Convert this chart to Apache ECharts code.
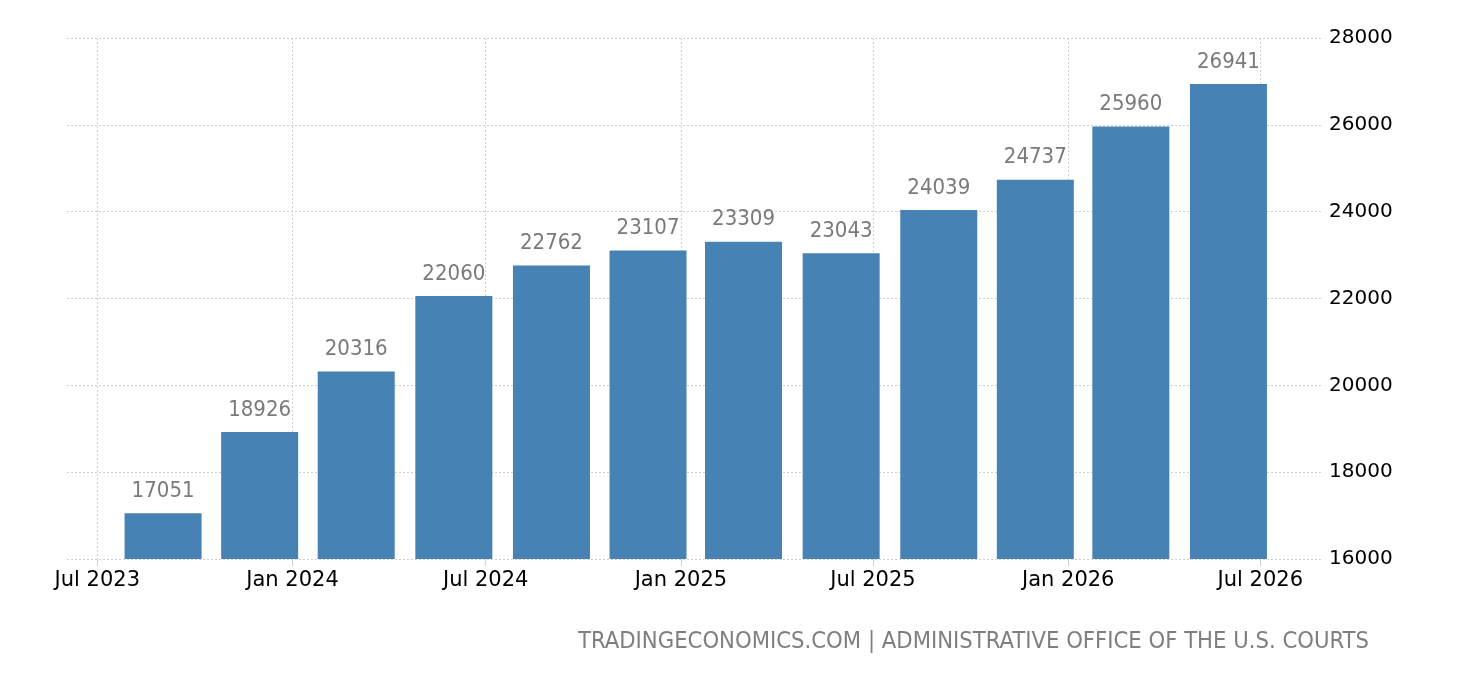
<!DOCTYPE html>
<html>
<head>
<meta charset="utf-8">
<script src="https://cdn.jsdelivr.net/npm/echarts@6/dist/echarts.min.js"></script>
<style>
html,body{margin:0;padding:0;background:#fff;}
#chart{width:1460px;height:680px;}
</style>
</head>
<body>
<div id="chart"></div>
<script>
// Data
const periods = ['2023-09-01','2023-12-01','2024-03-01','2024-06-01','2024-09-01','2024-12-01','2025-03-01','2025-06-01','2025-09-01','2025-12-01','2026-03-01','2026-06-01'];
const values = [17051,18926,20316,22060,22762,23107,23309,23043,24039,24737,25960,26941];
const yTicks = [16000,18000,20000,22000,24000,26000,28000];
const sourceText = 'TRADINGECONOMICS.COM | ADMINISTRATIVE OFFICE OF THE U.S. COURTS';

function toTime(s){ const p = s.split('-').map(Number); return new Date(p[0], p[1]-1, p[2]).getTime(); }
const DAY = 86400000;
// ECharts widens a bar axis by half a bar on each side; these bounds account for that
const xMin = new Date(2023, 6, 1).getTime() + 7.73 * DAY;
const xMax = new Date(2026, 6, 1).getTime() + 22.82 * DAY;
const MONTHS = ['Jan','Feb','Mar','Apr','May','Jun','Jul','Aug','Sep','Oct','Nov','Dec'];

const chart = echarts.init(document.getElementById('chart'));
chart.setOption({
  animation: false,
  backgroundColor: '#ffffff',
  grid: { left: 67, right: 137, top: 38, bottom: 121, containLabel: false },
  xAxis: {
    type: 'time',
    min: xMin,
    max: xMax,
    minInterval: 175 * DAY,
    maxInterval: 190 * DAY,
    axisLine: { show: false },
    axisTick: { show: true, length: 7, lineStyle: { color: '#d0d0d0', width: 1 } },
    axisLabel: {
      showMinLabel: false, showMaxLabel: false,
      color: '#000', fontFamily: 'DejaVu Sans', fontSize: 21, margin: 11,
      formatter: function(v){ const d = new Date(v); return MONTHS[d.getMonth()] + ' ' + d.getFullYear(); }
    },
    splitLine: { show: true, showMinLine: false, showMaxLine: false, lineStyle: { color: '#cfcfcf', type: [2,2], width: 1 } }
  },
  yAxis: {
    type: 'value',
    position: 'right',
    min: yTicks[0],
    max: yTicks[yTicks.length-1],
    interval: 2000,
    axisLine: { show: false },
    axisTick: { show: false },
    axisLabel: { color: '#000', fontFamily: 'DejaVu Sans', fontSize: 20, margin: 6, formatter: function(v){ return String(v); } },
    splitLine: { show: true, lineStyle: { color: '#cfcfcf', type: [2,2], width: 1 } }
  },
  series: [{
    type: 'bar',
    barWidth: 77,
    itemStyle: { color: '#4682b4' },
    data: periods.map((p, i) => [toTime(p), values[i]]),
    label: {
      show: true, position: 'top', distance: 11,
      color: '#7a7a7a', fontFamily: "'DejaVu Sans Condensed', 'Liberation Sans'", fontSize: 22,
      formatter: function(p){ return String(p.value[1]); }
    }
  }],
  graphic: [{
    type: 'text',
    right: 91,
    top: 630,
    style: { text: sourceText, fill: '#7f7f7f', font: "23.6px 'DejaVu Sans Condensed', 'Liberation Sans'" }
  }]
});
</script>
</body>
</html>
